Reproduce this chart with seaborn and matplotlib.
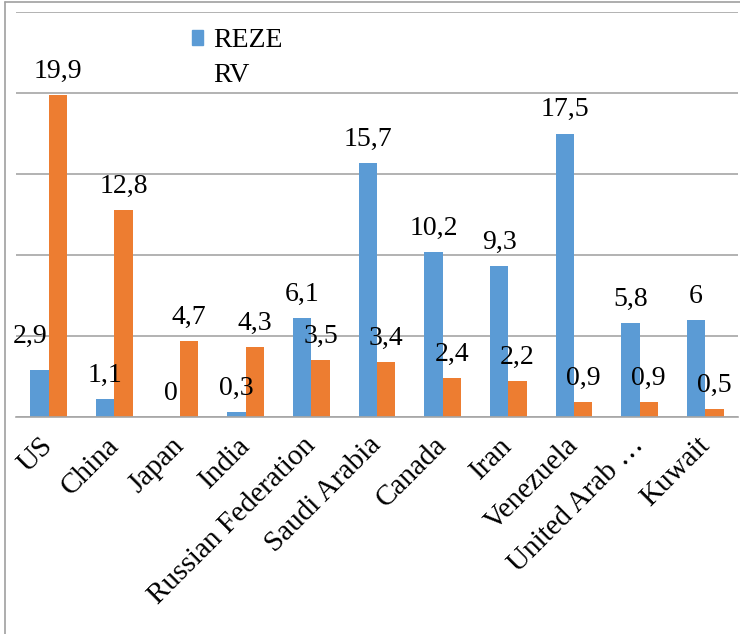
import numpy as np
import pandas as pd
import matplotlib
matplotlib.use("Agg")
import matplotlib.pyplot as plt
import seaborn as sns
from matplotlib.patches import Patch
from matplotlib.lines import Line2D
from matplotlib.transforms import ScaledTranslation

countries = ["US", "China", "Japan", "India", "Russian Federation", "Saudi Arabia",
             "Canada", "Iran", "Venezuela", "United Arab …", "Kuwait"]
reze = [2.9, 1.1, 0, 0.3, 6.1, 15.7, 10.2, 9.3, 17.5, 5.8, 6]
rv = [19.9, 12.8, 4.7, 4.3, 3.5, 3.4, 2.4, 2.2, 0.9, 0.9, 0.5]
series_names = ["REZE", "RV"]
colors = ["#5B9BD5", "#ED7D31"]

df = pd.DataFrame({
    "country": countries * 2,
    "value": reze + rv,
    "series": [series_names[0]] * len(countries) + [series_names[1]] * len(countries),
})

sns.set_theme(style="white")
plt.rcParams["font.family"] = ["Liberation Serif", "DejaVu Serif"]
plt.rcParams["text.color"] = "black"
plt.rcParams["xtick.color"] = "black"

fig = plt.figure(figsize=(7.4, 6.34), dpi=100)
ax = fig.add_axes([16 / 740, 1 - 417 / 634, (738 - 16) / 740, (417 - 12) / 634])

sns.barplot(data=df, x="country", y="value", hue="series", palette=colors,
            width=0.56, saturation=1, linewidth=0, legend=False, ax=ax)

# value labels with decimal comma
def fmt(v):
    return ("%g" % v).replace(".", ",")

anns = []
for cont, vals in zip(ax.containers, [reze, rv]):
    anns.append(ax.bar_label(cont, labels=[fmt(v) for v in vals], padding=8,
                             fontsize=20, color="black"))
# excel nudged the US REZE label up and left
anns[0][0].xyann = (-7, 15)

ax.set_ylim(0, 25)
ax.set_xlim(-0.5, len(countries) - 0.5)
ax.set_yticks(np.arange(0, 26, 5))
ax.set_yticklabels([])
ax.tick_params(axis="y", length=0)
ax.yaxis.grid(True, color="#a6a6a6", linewidth=1.2)
ax.set_axisbelow(True)
for s in ["left", "right", "top"]:
    ax.spines[s].set_visible(False)
ax.spines["bottom"].set_color("#a6a6a6")
ax.spines["bottom"].set_linewidth(1.2)

ax.set_xticks(np.arange(-0.5, len(countries), 1))
ax.set_xticklabels([])
ax.tick_params(axis="x", which="major", length=6.5, width=1.2, color="#a6a6a6", direction="out")
ax.set_xticks(np.arange(len(countries)), minor=True)
ax.set_xticklabels(countries, minor=True, rotation=45, ha="right",
                   rotation_mode="anchor", fontsize=21)
ax.tick_params(axis="x", which="minor", length=0, pad=11)
shift = ScaledTranslation(-9 / 100, 0, fig.dpi_scale_trans)
for lab in ax.get_xticklabels(minor=True):
    lab.set_transform(lab.get_transform() + shift)
ax.set_xlabel("")
ax.set_ylabel("")

handles = [Patch(color=colors[0]), Patch(color="none")]
fig.legend(handles, series_names, loc="upper left", bbox_to_anchor=(192 / 740, 1 - 28 / 634),
           frameon=False, fontsize=20, handlelength=0.4, handleheight=0.45,
           handletextpad=0.35, labelspacing=0.35, borderpad=0, borderaxespad=0)

# outer chart frame (left and top edges visible)
fig.add_artist(Line2D([5 / 740, 5 / 740], [0, 1 - 2 / 634], color="#a0a0a0", lw=1.2,
                      transform=fig.transFigure))
fig.add_artist(Line2D([5 / 740, 1], [1 - 2 / 634, 1 - 2 / 634], color="#a0a0a0", lw=1.2,
                      transform=fig.transFigure))

fig.savefig("out.png", dpi=100)
